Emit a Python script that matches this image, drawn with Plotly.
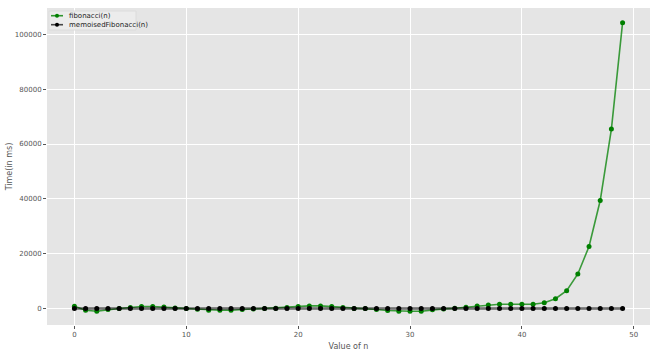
import plotly.graph_objects as go

n_values = list(range(50))
fib_times = [850, -600, -970, -360, 0, 360, 730, 730, 600, 240,
             0, -240, -600, -600, -600, -360, -120, 0, 120, 360,
             730, 970, 970, 730, 360, 0, 0, -360, -730, -970,
             -970, -970, -480, -120, 120, 480, 970, 1330, 1570, 1570,
             1570, 1570, 2100, 3600, 6500, 12600, 22650, 39400, 65450, 104250]
memo_times = [0] * 50

x_ticks = [0, 10, 20, 30, 40, 50]
y_ticks = [0, 20000, 40000, 60000, 80000, 100000]
legend_names = ["fibonacci(n)", "memoisedFibonacci(n)"]
legend_colors = ["#008000", "#000000"]

fig = go.Figure()
fig.add_trace(go.Scatter(
    x=n_values, y=fib_times, mode="lines+markers", name=legend_names[0],
    line=dict(color="rgba(0,128,0,0.75)", width=1.6),
    marker=dict(color=legend_colors[0], size=5),
))
fig.add_trace(go.Scatter(
    x=n_values, y=memo_times, mode="lines+markers", name=legend_names[1],
    line=dict(color="rgba(0,0,0,0.55)", width=2.5),
    marker=dict(color=legend_colors[1], size=5),
))

# plot-area pixel geometry (used for a compact matplotlib-like legend)
L, R, T, B = 47, 650, 8, 325
def px(x):
    return (x - L) / (R - L)
def py(y):
    return (B - y) / (B - T)

shapes = [dict(type="rect", xref="paper", yref="paper",
               x0=px(49), x1=px(136), y0=py(30), y1=py(11),
               fillcolor="rgba(236,236,236,0.9)", line=dict(color="#DCDCDC", width=1))]
annotations = []
for i, (name, col) in enumerate(zip(legend_names, legend_colors)):
    yy = 15.7 + 9 * i
    lc = "rgba(0,128,0,0.8)" if i == 0 else "rgba(0,0,0,0.7)"
    shapes.append(dict(type="line", xref="paper", yref="paper",
                       x0=px(51), x1=px(63), y0=py(yy), y1=py(yy),
                       line=dict(color=lc, width=1.6)))
    shapes.append(dict(type="circle", xref="paper", yref="paper",
                       x0=px(55), x1=px(59), y0=py(yy + 2), y1=py(yy - 2),
                       fillcolor=col, line=dict(color=col, width=0)))
    annotations.append(dict(xref="paper", yref="paper", x=px(67), y=py(yy),
                            xanchor="left", yanchor="middle", showarrow=False,
                            text=name, font=dict(family="DejaVu Sans", size=7, color="#222222")))

axis_common = dict(
    showgrid=True, gridcolor="white", gridwidth=1, zeroline=False,
    ticks="outside", ticklen=3, tickcolor="#555555",
    tickfont=dict(family="DejaVu Sans", size=7, color="#555555"),
    showline=False, automargin=False,
)
fig.update_layout(
    width=660, height=353,
    margin=dict(l=L, r=660 - R, t=T, b=353 - B),
    paper_bgcolor="white", plot_bgcolor="#E5E5E5",
    showlegend=False,
    shapes=shapes, annotations=annotations,
    xaxis=dict(range=[-2.45, 51.45], tickvals=x_ticks,
               title=dict(text="Value of n", font=dict(family="DejaVu Sans", size=8, color="#555555"), standoff=4),
               **axis_common),
    yaxis=dict(range=[-6000, 109600], tickvals=y_ticks, tickformat="d",
               title=dict(text="Time(in ms)", font=dict(family="DejaVu Sans", size=8, color="#555555"), standoff=1),
               **axis_common),
)
fig.write_html("out.html")
